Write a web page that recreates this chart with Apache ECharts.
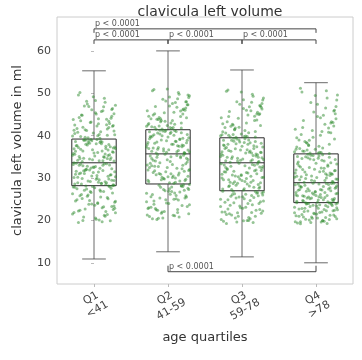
<!DOCTYPE html>
<html>
<head>
<meta charset="utf-8">
<script src="https://cdn.jsdelivr.net/npm/echarts@6/dist/echarts.min.js"></script>
<style>
  html, body { margin: 0; padding: 0; background: #fff; }
  #chart { width: 362px; height: 360px; }
</style>
</head>
<body>
<div id="chart"></div>
<script>
// categories / tick labels
var quartileLabels = ['Q1\n<41', 'Q2\n41-59', 'Q3\n59-78', 'Q4\n>78'];
var yTicks = [10, 20, 30, 40, 50, 60];

// box statistics (whisker min, q1, median, q3, whisker max)
var boxMin = [10.9, 12.6, 11.4, 10.0];
var boxQ1 = [28.2, 28.6, 27.0, 24.2];
var boxMed = [33.6, 35.7, 33.6, 28.9];
var boxQ3 = [39.2, 41.4, 39.5, 35.7];
var boxMax = [55.3, 60.0, 55.5, 52.5];

// significance brackets: from group, to group, height, text
var bracketFrom = [0, 0, 1, 2, 1];
var bracketTo = [3, 1, 2, 3, 3];
var bracketY = [65.2, 62.6, 62.6, 62.6, 7.9];
var bracketText = ['p < 0.0001', 'p < 0.0001', 'p < 0.0001', 'p < 0.0001', 'p < 0.0001'];

// horizontal jitter of the strip points (in category units)
var jitter = [
  -0.21, 0.14, -0.05, 0.27, -0.28, 0.03, 0.19, -0.12, 0.08, -0.25, 0.22, -0.17, 0.11, -0.02, 0.29, -0.09, 0.16, -0.23, 0.05, -0.14, 0.25, -0.07, 0.01, -0.29, 0.18, -0.19, 0.09, 0.28, -0.11, 0.13,
  -0.26, 0.06, -0.16, 0.21, -0.03, 0.24, -0.22, 0.12, -0.08, 0.17, -0.27, 0.02, 0.26, -0.13, 0.07, -0.20, 0.23, -0.04, 0.15, -0.24, 0.10, -0.15, 0.29, -0.06, 0.20, -0.18, 0.04, -0.10, 0.27, -0.01,
  0.12, -0.24, 0.19, -0.07, 0.25, -0.14, 0.03, -0.28, 0.16, -0.11, 0.22, -0.02, 0.08, -0.20, 0.28, -0.16, 0.05, -0.25, 0.14, -0.09, 0.21, -0.04, 0.11, -0.22, 0.26, -0.13, 0.00, -0.27, 0.18, -0.06,
  -0.18, 0.24, -0.10, 0.15, -0.26, 0.07, -0.03, 0.20, -0.21, 0.09, 0.27, -0.15, 0.02, -0.08, 0.17, -0.23, 0.13, -0.01, 0.23, -0.19, 0.06, -0.29, 0.10, -0.12, 0.29, -0.05, 0.18, -0.17, 0.04, 0.25,
  0.07, -0.23, 0.26, -0.10, 0.15, -0.29, 0.01, 0.21, -0.16, 0.11, -0.04, 0.28, -0.19, 0.05, -0.26, 0.18, -0.08, 0.24, -0.13, 0.02, 0.29, -0.21, 0.13, -0.03, 0.20, -0.27, 0.09, -0.15, 0.23, -0.06,
  0.16, -0.11, 0.04, -0.24, 0.27, -0.18, 0.10, -0.01, 0.22, -0.28, 0.06, -0.14, 0.19, -0.09, 0.25, -0.20, 0.03, 0.14, -0.25, 0.08, -0.17, 0.28, -0.05, 0.12, -0.22, 0.00, 0.24, -0.12, 0.17, -0.27,
  -0.02, 0.20, -0.26, 0.09, -0.15, 0.27, -0.08, 0.13, -0.21, 0.04, 0.23, -0.18, 0.11, -0.29, 0.16, -0.06, 0.26, -0.11, 0.01, -0.23, 0.19, -0.14, 0.07, 0.29, -0.03, 0.15, -0.25, 0.10, -0.19, 0.22,
  0.05, -0.28, 0.18, -0.07, 0.25, -0.12, 0.02, -0.20, 0.14, -0.26, 0.21, -0.09, 0.27, -0.16, 0.08, -0.04, 0.24, -0.22, 0.12, -0.01, 0.17, -0.27, 0.06, -0.13, 0.28, -0.18, 0.03, 0.20, -0.10, 0.26
];

// strip point volumes per quartile (ml)
var volQ1 = [
  19.5, 21.2, 26.8, 23.4, 27.9, 20.3, 25.1, 22.7, 27.2, 24.6, 19.9, 26.1, 23.0, 28.0, 21.8, 25.7, 22.1, 27.5, 24.0, 20.8, 26.5, 23.8, 27.7, 21.5, 25.4, 22.4, 26.9, 24.3, 28.1, 23.2,
  28.6, 31.4, 29.9, 33.1, 30.5, 32.2, 28.9, 31.8, 29.3, 33.4, 30.1, 32.7, 28.4, 31.1, 29.6, 33.0, 30.8, 32.4, 29.1, 31.6, 28.7, 32.9, 30.3, 31.9, 29.8, 33.3, 30.6, 32.0, 28.3, 31.3,
  34.1, 37.6, 35.3, 38.8, 36.2, 34.7, 38.1, 35.8, 37.0, 39.0, 34.4, 36.7, 38.4, 35.1, 37.3, 33.9, 36.0, 38.6, 34.9, 37.8, 35.5, 39.1, 36.4, 34.2, 37.1, 38.9, 35.9, 36.9, 34.6, 38.2,
  39.8, 44.6, 41.2, 47.9, 42.5, 40.3, 46.1, 43.4, 49.6, 40.9, 45.2, 42.0, 48.3, 39.5, 43.9, 41.7, 46.8, 40.6, 44.1, 50.2, 42.8, 39.9, 45.7, 41.4, 47.2, 43.1, 40.1, 44.9, 42.3, 46.4,
  20.1, 24.9, 22.6, 27.4, 21.0, 26.3, 23.6, 28.0, 25.2, 19.7, 26.6, 22.9, 25.8, 24.2, 27.8, 21.4, 26.0, 23.3, 27.1, 20.6, 24.5, 22.2, 26.8, 23.9, 28.1, 21.9, 25.5, 20.0, 27.6, 24.7,
  28.5, 32.1, 30.0, 33.5, 29.4, 31.2, 28.8, 32.6, 30.7, 33.2, 29.0, 31.7, 30.4, 32.8, 28.2, 31.0, 29.7, 33.4, 30.9, 32.3, 28.6, 31.5, 29.2, 33.0, 30.2, 32.5, 29.5, 31.8, 28.9, 33.6,
  34.3, 37.9, 35.6, 38.7, 36.4, 34.0, 38.3, 35.0, 37.2, 39.1, 34.8, 36.8, 38.5, 35.4, 37.5, 34.5, 36.1, 38.0, 35.2, 37.7, 36.6, 39.0, 34.1, 37.0, 38.8, 35.7, 36.3, 38.1, 34.6, 37.4,
  40.0, 43.8, 41.6, 46.9, 42.2, 39.6, 45.4, 44.3, 48.8, 40.5, 42.9, 47.5, 41.1, 44.8, 39.4, 43.2, 46.2, 40.8, 45.9, 49.2, 42.6, 41.3, 44.0, 47.0, 40.2, 43.5, 45.1, 41.9, 48.1, 42.4
];
var volQ2 = [
  20.4, 24.8, 22.1, 27.6, 21.3, 26.2, 23.5, 28.3, 25.0, 20.9, 27.1, 22.8, 25.9, 24.1, 28.5, 21.7, 26.7, 23.1, 27.9, 22.4, 25.5, 20.6, 26.9, 24.4, 28.1, 23.8, 21.1, 27.3, 25.3, 22.6,
  29.1, 33.2, 30.8, 35.4, 31.5, 29.7, 34.6, 32.3, 30.2, 35.1, 31.9, 28.9, 33.8, 32.7, 30.5, 34.2, 29.4, 35.6, 31.2, 33.5, 30.0, 34.9, 32.0, 29.9, 33.0, 31.7, 35.0, 30.9, 34.4, 32.5,
  36.2, 39.8, 37.4, 41.1, 38.3, 36.8, 40.5, 37.9, 39.2, 41.3, 36.0, 38.8, 40.1, 37.1, 39.5, 35.9, 38.0, 40.9, 36.5, 39.0, 37.7, 41.0, 38.6, 36.3, 40.3, 37.2, 39.7, 38.4, 40.7, 36.9,
  42.0, 46.5, 43.3, 49.8, 44.6, 41.9, 48.2, 45.1, 50.6, 42.7, 47.3, 43.9, 49.1, 41.6, 45.8, 44.0, 48.7, 42.4, 46.0, 50.9, 43.6, 42.2, 47.8, 44.3, 49.4, 45.4, 41.8, 46.9, 43.0, 48.0,
  21.2, 25.6, 23.3, 27.8, 20.8, 26.4, 24.0, 28.4, 22.5, 25.1, 27.0, 21.6, 24.6, 26.8, 23.0, 28.2, 22.0, 25.8, 20.5, 27.5, 23.7, 26.1, 21.9, 24.9, 28.0, 22.8, 26.5, 20.2, 25.3, 27.3,
  29.3, 33.6, 31.0, 35.2, 30.4, 32.8, 29.0, 34.3, 31.6, 33.1, 30.1, 35.5, 32.2, 29.6, 34.7, 31.3, 33.9, 30.7, 32.5, 28.8, 34.0, 31.8, 29.8, 35.3, 32.9, 30.3, 33.4, 31.1, 34.8, 29.5,
  36.1, 39.4, 37.0, 41.2, 38.5, 36.6, 40.0, 37.6, 39.9, 40.8, 35.8, 38.2, 41.0, 37.3, 39.1, 36.4, 38.9, 40.4, 36.7, 39.6, 37.8, 40.6, 38.0, 36.2, 41.3, 37.5, 39.3, 38.7, 40.2, 35.9,
  41.7, 45.9, 43.0, 48.6, 44.2, 42.3, 47.0, 44.9, 50.2, 42.9, 46.3, 43.6, 49.6, 41.5, 45.5, 43.4, 48.0, 42.1, 46.7, 51.0, 44.5, 42.6, 47.6, 43.8, 49.0, 45.2, 41.9, 46.1, 44.0, 47.3
];
var volQ3 = [
  19.3, 23.7, 21.0, 26.5, 20.2, 25.1, 22.4, 26.9, 24.0, 19.8, 25.8, 21.6, 24.7, 23.0, 26.7, 20.6, 25.4, 22.0, 26.2, 21.3, 24.4, 19.6, 25.6, 23.3, 26.8, 22.7, 20.0, 26.0, 24.2, 21.9,
  27.4, 31.3, 29.0, 33.3, 29.8, 27.9, 32.5, 30.4, 28.3, 33.0, 30.0, 27.2, 31.8, 30.7, 28.6, 32.2, 27.6, 33.5, 29.4, 31.5, 28.1, 32.8, 30.2, 28.8, 31.0, 29.6, 32.9, 29.1, 32.3, 30.6,
  34.0, 37.7, 35.2, 39.2, 36.1, 34.6, 38.4, 35.7, 37.0, 39.4, 33.8, 36.6, 38.0, 34.9, 37.3, 33.7, 35.9, 38.9, 34.3, 36.9, 35.5, 39.0, 36.4, 34.1, 38.2, 35.0, 37.5, 36.2, 38.6, 34.7,
  40.1, 45.2, 41.5, 49.3, 42.8, 39.8, 47.4, 43.7, 50.5, 40.7, 46.3, 42.2, 48.5, 39.6, 44.6, 41.9, 47.9, 40.4, 45.0, 50.8, 43.0, 40.0, 46.8, 42.5, 48.9, 44.1, 39.7, 45.7, 41.2, 47.0,
  20.0, 24.3, 21.7, 26.3, 19.5, 25.0, 22.9, 26.6, 23.6, 20.4, 25.5, 22.2, 24.9, 23.1, 26.9, 21.0, 25.3, 22.6, 26.1, 19.9, 24.6, 21.4, 25.9, 23.4, 26.4, 22.0, 20.7, 25.7, 24.0, 21.8,
  27.8, 31.6, 29.2, 33.1, 30.1, 28.0, 32.4, 30.8, 28.5, 33.4, 29.9, 27.3, 31.9, 30.5, 28.9, 32.0, 27.5, 33.2, 29.6, 31.2, 28.2, 32.7, 30.3, 29.0, 31.4, 29.4, 32.6, 28.7, 31.7, 30.9,
  34.2, 37.4, 35.4, 39.0, 36.3, 34.8, 38.1, 35.9, 37.2, 39.3, 33.9, 36.5, 38.3, 35.1, 37.6, 34.0, 36.0, 38.7, 34.5, 37.0, 35.7, 38.9, 36.7, 34.4, 38.5, 35.3, 37.8, 36.1, 38.0, 34.9,
  39.9, 44.2, 41.0, 48.0, 42.4, 40.3, 46.4, 43.3, 49.8, 40.9, 45.5, 41.8, 47.6, 39.7, 44.9, 42.0, 47.1, 40.6, 45.9, 50.3, 43.6, 40.2, 46.0, 42.7, 48.4, 44.5, 39.8, 45.1, 41.4, 46.7
];
var volQ4 = [
  19.2, 22.3, 20.5, 23.9, 19.7, 22.9, 21.2, 24.0, 22.0, 19.4, 23.5, 20.8, 22.6, 21.6, 24.1, 20.1, 23.2, 21.0, 23.7, 20.3, 22.4, 19.5, 23.4, 21.8, 24.1, 21.4, 19.9, 23.0, 22.2, 20.7,
  24.5, 27.3, 25.7, 28.7, 26.2, 24.8, 28.1, 26.6, 25.1, 28.5, 26.0, 24.3, 27.6, 26.9, 25.4, 27.9, 24.6, 28.8, 25.9, 27.1, 24.9, 28.3, 26.4, 25.3, 27.0, 25.8, 28.6, 25.5, 27.8, 26.7,
  29.4, 33.8, 30.6, 35.4, 31.7, 29.9, 34.7, 31.2, 32.8, 35.6, 29.2, 32.1, 34.2, 30.3, 33.3, 29.0, 31.5, 35.1, 30.0, 32.5, 31.0, 35.3, 32.3, 29.6, 34.4, 30.8, 33.5, 31.9, 34.9, 30.5,
  36.4, 42.3, 37.8, 48.9, 39.5, 36.0, 45.6, 40.7, 51.2, 37.1, 44.0, 38.6, 47.4, 35.9, 41.8, 39.0, 46.5, 36.8, 43.1, 50.3, 40.1, 36.2, 44.8, 38.2, 49.6, 41.2, 35.8, 43.6, 37.5, 46.0,
  19.6, 22.7, 20.9, 24.0, 19.3, 23.1, 21.5, 23.8, 22.1, 19.8, 23.6, 20.4, 22.8, 21.9, 24.2, 20.2, 23.3, 21.3, 23.9, 20.6, 22.5, 19.7, 23.5, 21.7, 24.1, 21.1, 20.0, 22.9, 22.3, 20.8,
  24.4, 27.5, 25.6, 28.6, 26.3, 24.7, 28.0, 26.8, 25.0, 28.4, 26.1, 24.2, 27.7, 27.0, 25.2, 27.9, 24.8, 28.7, 25.8, 27.2, 24.6, 28.2, 26.5, 25.4, 27.3, 25.9, 28.8, 25.3, 27.4, 26.6,
  29.3, 33.6, 30.4, 35.5, 31.4, 29.8, 34.5, 31.0, 32.6, 35.2, 29.1, 32.0, 34.0, 30.2, 33.1, 29.5, 31.8, 34.8, 30.1, 32.9, 31.2, 35.0, 32.4, 29.7, 34.3, 30.7, 33.4, 31.6, 34.6, 30.9,
  36.1, 41.5, 38.0, 47.8, 39.2, 36.6, 44.5, 40.3, 50.6, 37.3, 43.3, 38.9, 46.9, 36.3, 41.0, 39.6, 45.8, 37.0, 42.7, 49.5, 40.8, 36.8, 44.2, 38.4, 48.4, 41.9, 35.9, 43.0, 37.7, 45.2
];

var groups = [volQ1, volQ2, volQ3, volQ4];

var stripData = [];
groups.forEach(function (vals, g) {
    vals.forEach(function (v, i) {
        stripData.push([g + jitter[i], v]);
    });
});

var boxData = [];
for (var g = 0; g < quartileLabels.length; g++) {
    boxData.push([g, boxMin[g], boxQ1[g], boxMed[g], boxQ3[g], boxMax[g]]);
}

var bracketData = [];
for (var b = 0; b < bracketFrom.length; b++) {
    bracketData.push([bracketFrom[b], bracketTo[b], bracketY[b], bracketText[b]]);
}

function renderBox(params, api) {
    var g = api.value(0);
    var half = api.size([0.3, 0])[0];
    var capHalf = api.size([0.16, 0])[0];
    var cx = api.coord([g, 0])[0];
    var yMin = api.coord([g, api.value(1)])[1];
    var yQ1 = api.coord([g, api.value(2)])[1];
    var yMed = api.coord([g, api.value(3)])[1];
    var yQ3 = api.coord([g, api.value(4)])[1];
    var yMax = api.coord([g, api.value(5)])[1];
    var dark = { stroke: '#2a2a2a', lineWidth: 1, fill: null };
    var grey = { stroke: '#444', lineWidth: 0.8, fill: null };
    return {
        type: 'group',
        children: [
            { type: 'rect', shape: { x: cx - half, y: yQ3, width: half * 2, height: yQ1 - yQ3 }, style: { stroke: '#2a2a2a', lineWidth: 1, fill: 'rgba(0,0,0,0)' } },
            { type: 'line', shape: { x1: cx - half, y1: yMed, x2: cx + half, y2: yMed }, style: dark },
            { type: 'line', shape: { x1: cx, y1: yQ3, x2: cx, y2: yMax }, style: grey },
            { type: 'line', shape: { x1: cx, y1: yQ1, x2: cx, y2: yMin }, style: grey },
            { type: 'line', shape: { x1: cx - capHalf, y1: yMax, x2: cx + capHalf, y2: yMax }, style: grey },
            { type: 'line', shape: { x1: cx - capHalf, y1: yMin, x2: cx + capHalf, y2: yMin }, style: grey }
        ]
    };
}

function renderBracket(params, api) {
    var p1 = api.coord([api.value(0), api.value(2)]);
    var p2 = api.coord([api.value(1), api.value(2)]);
    var tick = api.value(2) > 30 ? 4 : -6;
    return {
        type: 'group',
        children: [
            {
                type: 'polyline',
                shape: { points: [[p1[0], p1[1] + tick], [p1[0], p1[1]], [p2[0], p2[1]], [p2[0], p2[1] + tick]] },
                style: { stroke: '#444', lineWidth: 1, fill: null }
            },
            {
                type: 'text',
                x: p1[0] + 1,
                y: p1[1] - 1,
                style: { text: api.value(3), fill: '#555', fontSize: 8, fontFamily: 'DejaVu Sans', textAlign: 'left', textVerticalAlign: 'bottom' }
            }
        ]
    };
}

var chart = echarts.init(document.getElementById('chart'));
var option = {
    animation: false,
    textStyle: { fontFamily: 'DejaVu Sans' },
    title: {
        text: 'clavicula left volume',
        left: 205,
        textAlign: 'center',
        top: 0,
        textStyle: { fontSize: 14, fontWeight: 'normal', color: '#333' }
    },
    grid: {
        left: 57, right: 9, top: 17, bottom: 76,
        show: true, borderColor: '#ccc', borderWidth: 1, backgroundColor: '#fff'
    },
    xAxis: [
        {
            type: 'category',
            data: quartileLabels,
            boundaryGap: true,
            axisLine: { show: false },
            axisTick: { show: true, alignWithLabel: true, length: 3, lineStyle: { color: '#bbb' } },
            axisLabel: { rotate: 30, align: 'center', verticalAlign: 'middle', margin: 20, color: '#444', fontSize: 11, lineHeight: 13 },
            splitLine: { show: false },
            name: 'age quartiles',
            nameLocation: 'middle',
            nameGap: 47,
            nameTextStyle: { fontSize: 13, color: '#333' }
        },
        { type: 'value', min: -0.5, max: 3.5, show: false }
    ],
    yAxis: {
        type: 'value',
        min: 5,
        max: 68,
        axisLine: { show: false },
        axisTick: { show: true, length: 3, customValues: yTicks, lineStyle: { color: '#bbb' } },
        axisLabel: { customValues: yTicks, color: '#444', fontSize: 11, margin: 6 },
        splitLine: { show: false },
        name: 'clavicula left volume in ml',
        nameLocation: 'middle',
        nameGap: 33,
        nameTextStyle: { fontSize: 13, color: '#333' }
    },
    series: [
        {
            type: 'scatter',
            xAxisIndex: 1,
            data: stripData,
            symbolSize: 3,
            itemStyle: { color: '#2b8a2b', opacity: 0.5 },
            z: 3
        },
        {
            type: 'custom',
            xAxisIndex: 1,
            data: boxData,
            renderItem: renderBox,
            z: 2
        },
        {
            type: 'custom',
            xAxisIndex: 1,
            data: bracketData,
            renderItem: renderBracket,
            z: 4
        }
    ]
};
chart.setOption(option);
</script>
</body>
</html>
